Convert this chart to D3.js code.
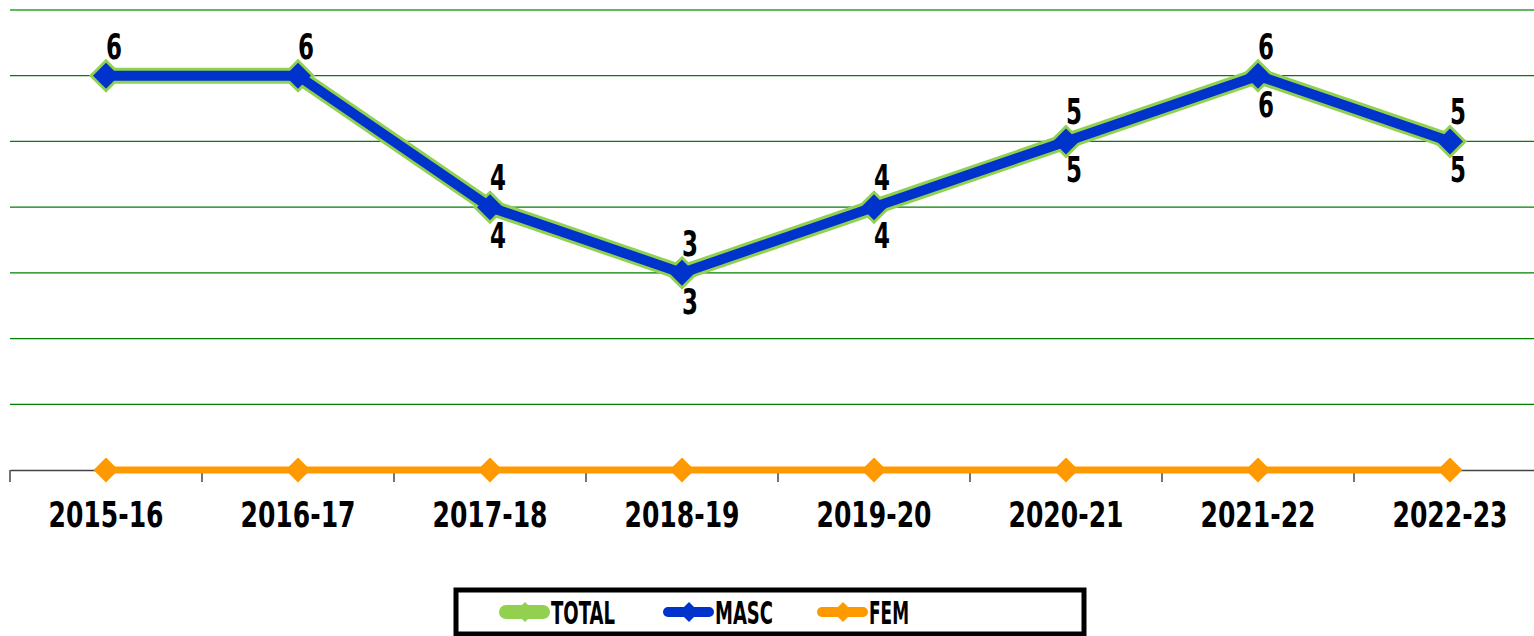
<!DOCTYPE html>
<html>
<head>
<meta charset="utf-8">
<script src="https://cdn.jsdelivr.net/npm/d3@7"></script>
<style>
  body { margin: 0; background: #fff; }
  svg { display: block; }
  text { font-family: 'Liberation Sans Narrow', 'DejaVu Sans Condensed', sans-serif; font-weight: bold; fill: #000; }
</style>
</head>
<body>
<div id="chart"></div>
<script>
const years = ['2015-16', '2016-17', '2017-18', '2018-19', '2019-20', '2020-21', '2021-22', '2022-23']
const total = [6, 6, 4, 3, 4, 5, 6, 5]
const masc = [6, 6, 4, 3, 4, 5, 6, 5]
const fem = [0, 0, 0, 0, 0, 0, 0, 0]
// which masc labels are visible in the original (first two are hidden behind total)
const mascLabelShown = [false, false, true, true, true, true, true, true]
const gridValues = [1, 2, 3, 4, 5, 6, 7]
const legendNames = ['TOTAL', 'MASC', 'FEM']

const width = 1534
const height = 636
const green = '#92d050'
const blue = '#0033cc'
const orange = '#ff9900'

const svg = d3.select('#chart').append('svg')
  .attr('width', width)
  .attr('height', height)

const xScale = d3.scaleBand()
  .domain(years)
  .range([10, 10 + 8 * 192])
const yScale = d3.scaleLinear()
  .domain([0, 7])
  .range([470, 10])
const cx = d => xScale(d) + xScale.bandwidth() / 2

// gridlines
svg.selectAll('.grid')
  .data(gridValues)
  .enter()
  .append('line')
  .classed('grid', true)
  .attr('x1', 10)
  .attr('x2', width)
  .attr('y1', d => yScale(d))
  .attr('y2', d => yScale(d))
  .style('stroke', d => d === 7 ? '#5fb85f' : '#008000')
  .style('stroke-width', d => d === 7 ? 2 : 1.2)

// x axis
let axis = svg.append('g')
  .attr('transform', `translate(0, ${yScale(0)})`)
  .call(d3.axisBottom(xScale).tickSize(0).tickPadding(31))
axis.select('.domain').style('stroke', '#444').style('stroke-width', 1.5)
axis.selectAll('text')
  .style('font-size', '36px')
  .attr('dy', '0.71em')
  .attr('font-family', null)
  .attr('textLength', 115)
  .attr('lengthAdjust', 'spacingAndGlyphs')
axis.selectAll('.bound')
  .data(d3.range(years.length + 1))
  .enter()
  .append('line')
  .attr('x1', i => 10 + i * xScale.bandwidth())
  .attr('x2', i => 10 + i * xScale.bandwidth())
  .attr('y1', 0)
  .attr('y2', 12)
  .style('stroke', '#444')
  .style('stroke-width', 1.5)

const line = d3.line()
  .x((d, i) => cx(years[i]))
  .y(d => yScale(d))

const diamond = s => `M0,${-s}L${s},0L0,${s}L${-s},0Z`

// fem series
svg.append('path')
  .datum(fem)
  .attr('d', line)
  .style('fill', 'none')
  .style('stroke', orange)
  .style('stroke-width', 7)
svg.selectAll('.femPt')
  .data(fem)
  .enter()
  .append('path')
  .attr('d', diamond(12.5))
  .attr('transform', (d, i) => `translate(${cx(years[i])},${yScale(d)})`)
  .style('fill', orange)

// total series (green, under masc)
svg.append('path')
  .datum(total)
  .attr('d', line)
  .style('fill', 'none')
  .style('stroke', green)
  .style('stroke-width', 16)
svg.selectAll('.totPt')
  .data(total)
  .enter()
  .append('path')
  .attr('d', diamond(17))
  .attr('transform', (d, i) => `translate(${cx(years[i])},${yScale(d)})`)
  .style('fill', green)

// masc series
svg.append('path')
  .datum(masc)
  .attr('d', line)
  .style('fill', 'none')
  .style('stroke', blue)
  .style('stroke-width', 10)
svg.selectAll('.mascPt')
  .data(masc)
  .enter()
  .append('path')
  .attr('d', diamond(13))
  .attr('transform', (d, i) => `translate(${cx(years[i])},${yScale(d)})`)
  .style('fill', blue)

// value labels
svg.selectAll('.totLabel')
  .data(total)
  .enter()
  .append('text')
  .attr('x', (d, i) => cx(years[i]) + 8)
  .attr('y', d => yScale(d) - 17)
  .attr('text-anchor', 'middle')
  .style('font-size', '35px')
  .attr('textLength', 16)
  .attr('lengthAdjust', 'spacingAndGlyphs')
  .text(d => d)
svg.selectAll('.mascLabel')
  .data(masc.map((v, i) => ({v: v, i: i})).filter(d => mascLabelShown[d.i]))
  .enter()
  .append('text')
  .attr('x', d => cx(years[d.i]) + 8)
  .attr('y', d => yScale(d.v) + 41)
  .attr('text-anchor', 'middle')
  .style('font-size', '35px')
  .attr('textLength', 16)
  .attr('lengthAdjust', 'spacingAndGlyphs')
  .text(d => d.v)

// legend
const legend = svg.append('g')
legend.append('rect')
  .attr('x', 456)
  .attr('y', 590)
  .attr('width', 628)
  .attr('height', 44)
  .style('fill', '#fff')
  .style('stroke', '#000')
  .style('stroke-width', 5)
const legColors = [green, blue, orange]
const legX = [499, 663, 817]
const legTextW = [64, 58, 40]
const legLineW = [14, 10, 10]
legendNames.forEach((name, i) => {
  let g = legend.append('g').attr('transform', `translate(${legX[i]}, 612)`)
  g.append('line')
    .attr('x1', legLineW[i] / 2)
    .attr('x2', 51 - legLineW[i] / 2)
    .style('stroke', legColors[i])
    .style('stroke-width', legLineW[i])
    .style('stroke-linecap', 'round')
  g.append('path')
    .attr('d', diamond(10))
    .attr('transform', 'translate(26,0)')
    .style('fill', legColors[i])
  g.append('text')
    .attr('x', 52)
    .attr('y', 12)
    .style('font-size', '32px')
    .attr('textLength', legTextW[i])
    .attr('lengthAdjust', 'spacingAndGlyphs')
    .text(name)
})
</script>
</body>
</html>
